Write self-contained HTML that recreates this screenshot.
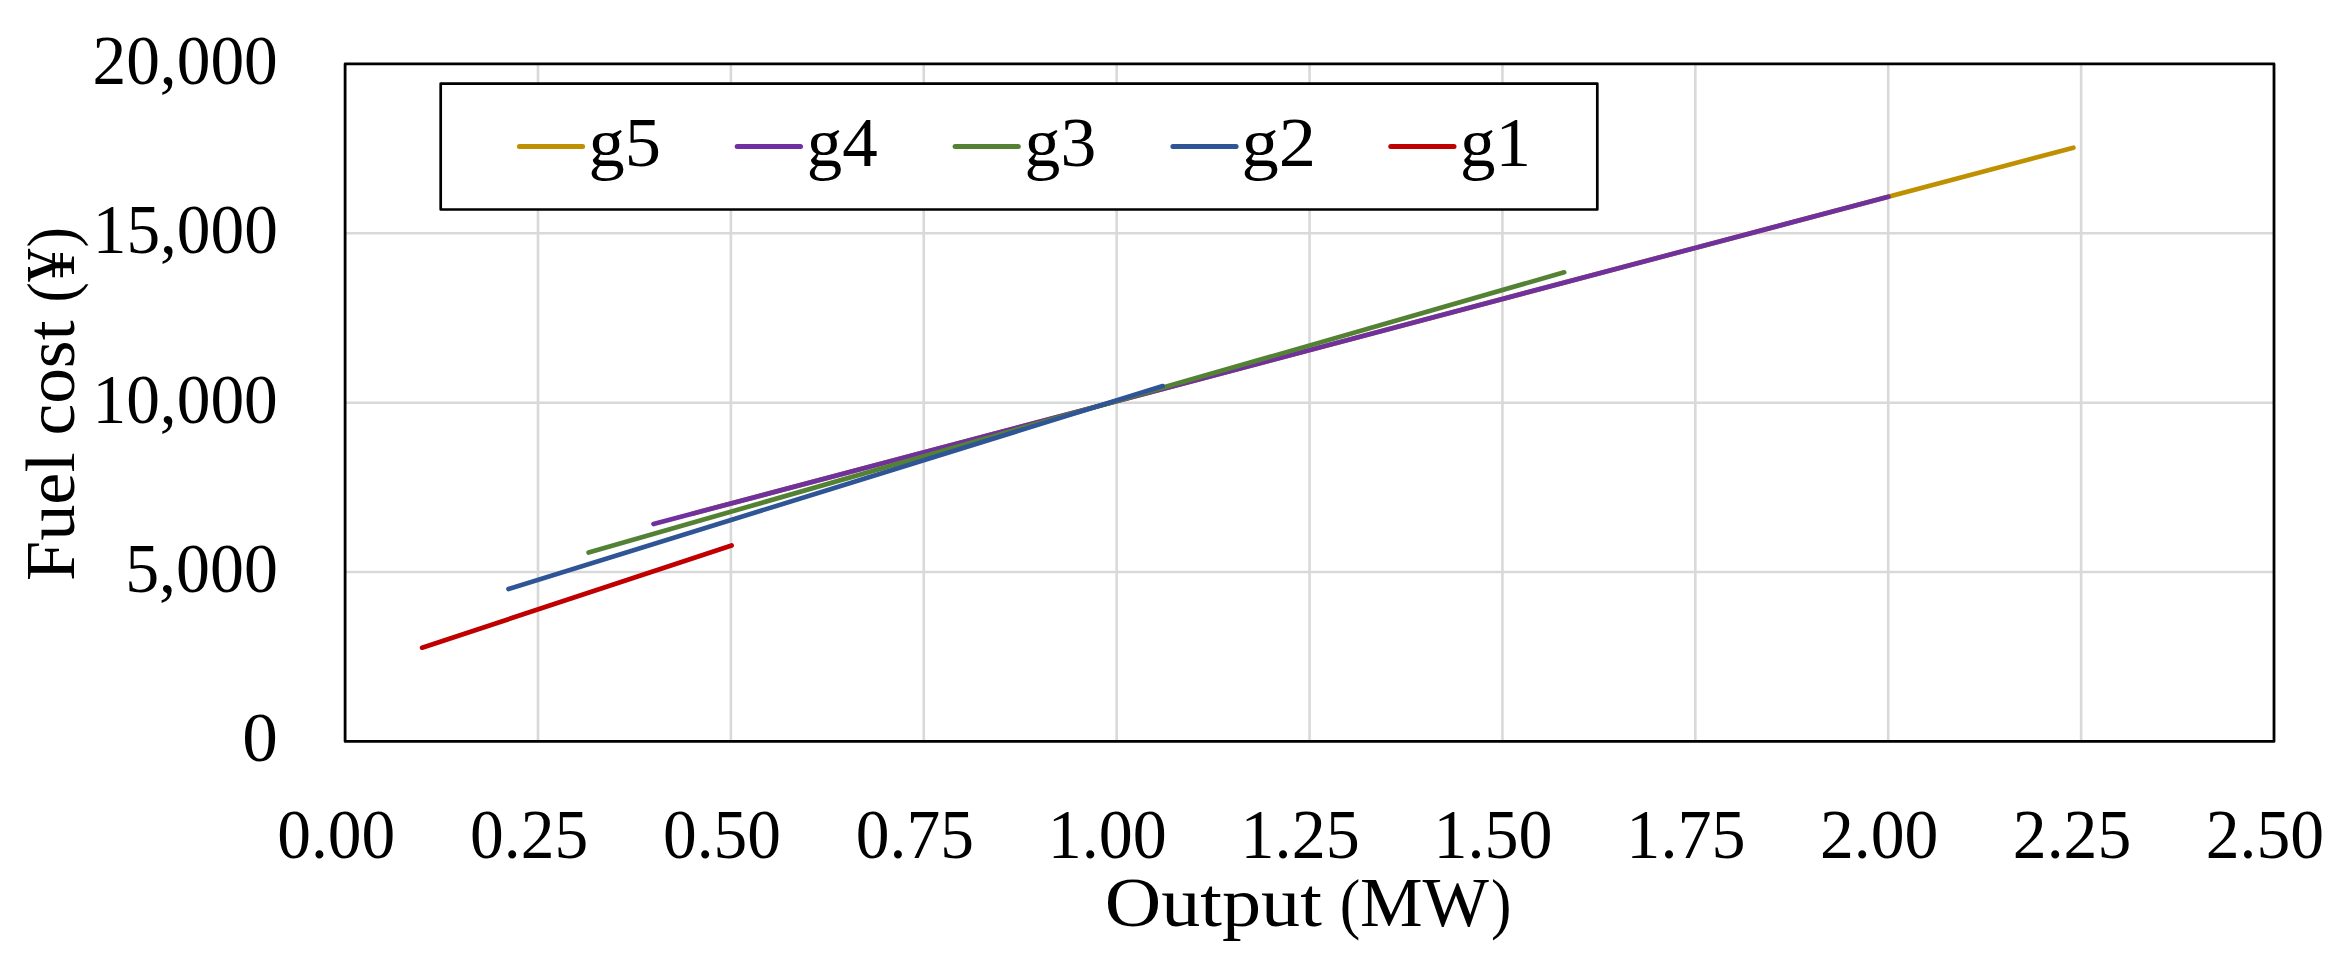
<!DOCTYPE html>
<html lang="en"><head><meta charset="utf-8"><title>Fuel cost vs output</title>
<style>html,body{margin:0;padding:0;background:#fff}body{width:2348px;height:964px;overflow:hidden}svg{display:block}text{font-family:"Liberation Serif",serif;fill:#000}</style></head><body>
<svg width="2348" height="964" viewBox="0 0 2348 964">
<rect width="2348" height="964" fill="#fff"/>
<g stroke="#d9d9d9" stroke-width="2.6" fill="none">
<line x1="537.99" y1="63.9" x2="537.99" y2="741.45"/>
<line x1="730.88" y1="63.9" x2="730.88" y2="741.45"/>
<line x1="923.77" y1="63.9" x2="923.77" y2="741.45"/>
<line x1="1116.66" y1="63.9" x2="1116.66" y2="741.45"/>
<line x1="1309.55" y1="63.9" x2="1309.55" y2="741.45"/>
<line x1="1502.44" y1="63.9" x2="1502.44" y2="741.45"/>
<line x1="1695.33" y1="63.9" x2="1695.33" y2="741.45"/>
<line x1="1888.22" y1="63.9" x2="1888.22" y2="741.45"/>
<line x1="2081.11" y1="63.9" x2="2081.11" y2="741.45"/>
<line x1="345.1" y1="233.29" x2="2274.0" y2="233.29"/>
<line x1="345.1" y1="402.68" x2="2274.0" y2="402.68"/>
<line x1="345.1" y1="572.06" x2="2274.0" y2="572.06"/>
</g>
<g fill="none" stroke-width="4.7" stroke-linecap="round" stroke-linejoin="round">
<line stroke="#bf9000" x1="692.5" y1="513.66" x2="2073.4" y2="147.70"/>
<line stroke="#7030a0" x1="653.5" y1="524.00" x2="1888.4" y2="196.73"/>
<line stroke="#548235" x1="588.6" y1="552.60" x2="1564.2" y2="272.30"/>
<line stroke="#2f5597" x1="508.5" y1="589.00" x2="1162.8" y2="386.10"/>
<line stroke="#c00000" x1="422.1" y1="647.70" x2="731.6" y2="545.50"/>
</g>
<rect x="345.1" y="63.9" width="1928.90" height="677.55" fill="none" stroke="#000" stroke-width="2.8" stroke-linejoin="round"/>
<rect x="440.7" y="83.55" width="1156.6" height="125.95" fill="#fff" stroke="#000" stroke-width="2.7" stroke-linejoin="round"/>
<g stroke-width="5" stroke-linecap="round">
<line x1="519.4" y1="146.4" x2="582.6" y2="146.4" stroke="#bf9000"/>
<line x1="737.2" y1="146.4" x2="800.5" y2="146.4" stroke="#7030a0"/>
<line x1="955.1" y1="146.4" x2="1018.3" y2="146.4" stroke="#548235"/>
<line x1="1172.9" y1="146.4" x2="1236.1" y2="146.4" stroke="#2f5597"/>
<line x1="1390.8" y1="146.4" x2="1454.0" y2="146.4" stroke="#c00000"/>
</g>
<text id="lg0" x="588.62" y="166" font-size="70" textLength="72.44" lengthAdjust="spacingAndGlyphs">g5</text>
<text id="lg1" x="806.88" y="166" font-size="70" textLength="70.94" lengthAdjust="spacingAndGlyphs">g4</text>
<text id="lg2" x="1024.55" y="166" font-size="70" textLength="71.68" lengthAdjust="spacingAndGlyphs">g3</text>
<text id="lg3" x="1241.42" y="166" font-size="70" textLength="74.59" lengthAdjust="spacingAndGlyphs">g2</text>
<text id="lg4" x="1459.88" y="166" font-size="70" textLength="71.00" lengthAdjust="spacingAndGlyphs">g1</text>
<text id="yl0" x="242.36" y="761" font-size="70.4" textLength="35.59" lengthAdjust="spacingAndGlyphs">0</text>
<text id="yl1" x="125.19" y="592" font-size="70.4" textLength="152.67" lengthAdjust="spacingAndGlyphs">5,000</text>
<text id="yl2" x="92.46" y="423" font-size="70.4" textLength="185.31" lengthAdjust="spacingAndGlyphs">10,000</text>
<text id="yl3" x="92.77" y="253" font-size="70.4" textLength="185.00" lengthAdjust="spacingAndGlyphs">15,000</text>
<text id="yl4" x="92.52" y="84" font-size="70.4" textLength="185.24" lengthAdjust="spacingAndGlyphs">20,000</text>
<text id="xl0" x="277.20" y="858" font-size="70.8" textLength="117.99" lengthAdjust="spacingAndGlyphs">0.00</text>
<text id="xl1" x="470.09" y="858" font-size="70.8" textLength="118.07" lengthAdjust="spacingAndGlyphs">0.25</text>
<text id="xl2" x="662.98" y="858" font-size="70.8" textLength="117.99" lengthAdjust="spacingAndGlyphs">0.50</text>
<text id="xl3" x="855.87" y="858" font-size="70.8" textLength="118.07" lengthAdjust="spacingAndGlyphs">0.75</text>
<text id="xl4" x="1047.66" y="858" font-size="70.8" textLength="119.11" lengthAdjust="spacingAndGlyphs">1.00</text>
<text id="xl5" x="1240.55" y="858" font-size="70.8" textLength="119.20" lengthAdjust="spacingAndGlyphs">1.25</text>
<text id="xl6" x="1433.44" y="858" font-size="70.8" textLength="119.11" lengthAdjust="spacingAndGlyphs">1.50</text>
<text id="xl7" x="1626.33" y="858" font-size="70.8" textLength="119.20" lengthAdjust="spacingAndGlyphs">1.75</text>
<text id="xl8" x="1819.93" y="858" font-size="70.8" textLength="118.39" lengthAdjust="spacingAndGlyphs">2.00</text>
<text id="xl9" x="2012.82" y="858" font-size="70.8" textLength="118.47" lengthAdjust="spacingAndGlyphs">2.25</text>
<text id="xl10" x="2205.71" y="858" font-size="70.8" textLength="118.39" lengthAdjust="spacingAndGlyphs">2.50</text>
<text id="xt" y="926" font-size="70.8"><tspan x="1104.74" textLength="217.13" lengthAdjust="spacingAndGlyphs">Output</tspan> <tspan x="1339.65" textLength="20.55" lengthAdjust="spacingAndGlyphs" font-size="67.3">(</tspan><tspan x="1359.95" textLength="129.06" lengthAdjust="spacingAndGlyphs">MW</tspan><tspan x="1491.10" textLength="20.42" lengthAdjust="spacingAndGlyphs" font-size="67.3">)</tspan></text>
<text id="yt" transform="translate(74.3,0) rotate(-90)" font-size="70.8"><tspan x="-581.10" textLength="128.62" lengthAdjust="spacingAndGlyphs">Fuel</tspan> <tspan x="-435.54" textLength="115.00" lengthAdjust="spacingAndGlyphs">cost</tspan> <tspan x="-302.42" textLength="20.29" lengthAdjust="spacingAndGlyphs" font-size="67.3">(</tspan><tspan x="-281.67" textLength="33.15" lengthAdjust="spacingAndGlyphs">¥</tspan><tspan x="-247.51" textLength="20.55" lengthAdjust="spacingAndGlyphs" font-size="67.3">)</tspan></text>
</svg></body></html>
